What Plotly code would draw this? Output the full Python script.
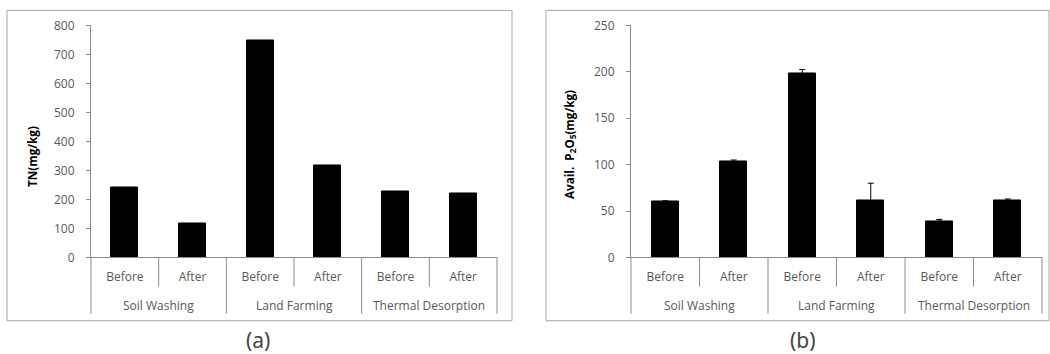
import plotly.graph_objects as go

W, H = 1050, 354

groups = ["Soil Washing", "Land Farming", "Thermal Desorption"]
phases = ["Before", "After", "Before", "After", "Before", "After"]
tn_values = [243, 116, 748, 318, 227, 221]
p2o5_values = [60, 103, 198, 61, 39, 61]
p2o5_err = [1, 2, 4.5, 19, 2, 2]

xs = list(range(len(phases)))

# observed vertical mapping of the capture: out = 9.6 + 0.948 * in
VOFF, VSC = 9.6, 0.948

def px_x(p):
    return p / W

def px_y(p):
    return 1 - (p - VOFF) / (VSC * H)

fig = go.Figure()

fig.add_trace(go.Bar(x=xs, y=tn_values, width=0.4, marker=dict(color="black", line=dict(color="black", width=1)),
                     xaxis="x", yaxis="y", showlegend=False))
fig.add_trace(go.Bar(x=xs, y=p2o5_values, width=0.4, marker=dict(color="black", line=dict(color="black", width=1)),
                     error_y=dict(type="data", array=p2o5_err, arrayminus=[0]*6, symmetric=False,
                                  color="black", thickness=1, width=3),
                     xaxis="x2", yaxis="y2", showlegend=False))

axis_col = "#8c8c8c"
tick_font = dict(family="Open Sans", size=12, color="#595959")

ydom = [px_y(257), px_y(26)]
xcommon = dict(range=[-0.5, 5.5], showline=True, linecolor=axis_col, linewidth=1, ticks="",
               tickvals=xs, ticktext=phases, tickfont=tick_font, showgrid=False, zeroline=False,
               ticklabelstandoff=8, fixedrange=True)
ycommon = dict(showline=True, linecolor=axis_col, linewidth=1, ticks="outside", ticklen=4,
               tickcolor=axis_col, tickfont=tick_font, showgrid=False, zeroline=False,
               ticklabelstandoff=9, fixedrange=True)

fig.update_layout(
    width=W, height=H, autosize=False,
    margin=dict(l=0, r=0, t=0, b=0),
    paper_bgcolor="white", plot_bgcolor="white",
    bargap=0,
    xaxis=dict(domain=[px_x(91), px_x(497)], anchor="y", **xcommon),
    yaxis=dict(domain=ydom, anchor="x", range=[0, 800], dtick=100, **ycommon),
    xaxis2=dict(domain=[px_x(631), px_x(1042)], anchor="y2", **xcommon),
    yaxis2=dict(domain=ydom, anchor="x2", range=[0, 250], dtick=50, **ycommon),
)

shapes = []
annotations = []
for xa in ["x", "x2"]:
    for k in [1, 3, 5]:
        shapes.append(dict(type="line", xref=f"{xa} domain", yref="paper", x0=k/6, x1=k/6,
                           y0=px_y(257), y1=px_y(286), line=dict(color=axis_col, width=1)))
    for k in [0, 2, 4, 6]:
        shapes.append(dict(type="line", xref=f"{xa} domain", yref="paper", x0=k/6, x1=k/6,
                           y0=px_y(257), y1=px_y(313), line=dict(color=axis_col, width=1)))
    for i, g in enumerate(groups):
        annotations.append(dict(text=g, xref=xa, yref="paper", x=2*i+0.5, y=px_y(305),
                                showarrow=False, font=tick_font, xanchor="center", yanchor="middle"))

shapes.append(dict(type="rect", xref="paper", yref="paper", x0=px_x(7), x1=px_x(512), y0=px_y(320), y1=px_y(11),
                   line=dict(color="#a6a6a6", width=1)))
shapes.append(dict(type="rect", xref="paper", yref="paper", x0=px_x(546), x1=px_x(1049), y0=px_y(320), y1=px_y(11),
                   line=dict(color="#a6a6a6", width=1)))

title_font = dict(family="Open Sans", size=11.7, color="black")
annotations.append(dict(text="<b>TN(mg/kg)</b>", xref="paper", yref="paper", x=px_x(32), y=px_y(157),
                        textangle=-90, showarrow=False, font=title_font, xanchor="center", yanchor="middle"))
annotations.append(dict(text="<b>Avail.  P<sub>2</sub>O<sub>5</sub>(mg/kg)</b>", xref="paper", yref="paper",
                        x=px_x(570), y=px_y(145), textangle=-90, showarrow=False, font=title_font,
                        xanchor="center", yanchor="middle"))

cap_font = dict(family="Noto Sans", size=21, color="#444444")
annotations.append(dict(text="(a)", xref="paper", yref="paper", x=px_x(258), y=px_y(339), showarrow=False,
                        font=cap_font, xanchor="center", yanchor="middle"))
annotations.append(dict(text="(b)", xref="paper", yref="paper", x=px_x(803), y=px_y(339), showarrow=False,
                        font=cap_font, xanchor="center", yanchor="middle"))

fig.update_layout(shapes=shapes, annotations=annotations)

fig.write_html("out.html", config={"displayModeBar": False},
               post_script="document.body.style.margin='0px';document.body.style.overflow='hidden';")
